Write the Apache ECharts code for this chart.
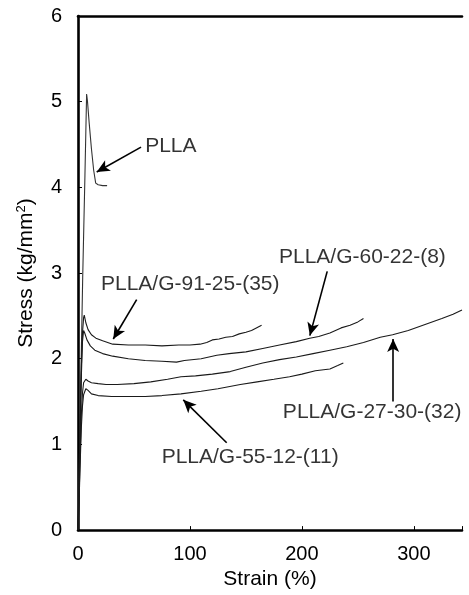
<!doctype html>
<html>
<head>
    <meta charset="utf-8">
    <title>stress-strain</title>
    <style type="text/css">
        body, html {
            width: 100%;
            height: 100%;
            margin: 0;
            padding: 0;
            background: #fff;
        }
    </style>
</head>
<body>
<div id="container" style="width: 469px; height: 595px"></div>

<script type="text/javascript" src="https://cdn.jsdelivr.net/npm/echarts@6.0.0/dist/echarts.min.js"></script>
<script type="text/javascript">
    // [strain %, stress kg/mm2]
    const plla = [[0, 0], [1.5, 1.0], [3, 2.1], [4.2, 2.95], [5.2, 3.55], [6.2, 4.14], [7, 4.65], [7.7, 5.09],
        [8.5, 5.0], [10, 4.75], [12, 4.45], [14, 4.2], [15.8, 4.05], [18, 4.03], [22, 4.02], [26, 4.02]];
    const g91 = [[0, 0], [1, 0.6], [2, 1.3], [3, 1.9], [4, 2.3], [5, 2.48], [5.6, 2.51], [7, 2.42], [9, 2.34],
        [12, 2.28], [16, 2.24], [22, 2.21], [31, 2.17], [45, 2.16], [60, 2.16], [75, 2.15], [90, 2.16],
        [100, 2.16], [109, 2.17], [115, 2.19], [120, 2.22], [126, 2.23], [132, 2.25], [138, 2.26],
        [144, 2.29], [150, 2.31], [155, 2.33], [158, 2.35], [161, 2.37], [164, 2.39]];
    const g60 = [[0, 0], [1, 0.5], [2, 1.2], [3, 1.8], [4, 2.2], [5, 2.33], [6, 2.3], [8, 2.22], [11, 2.15],
        [15, 2.1], [22, 2.06], [31, 2.03], [45, 2.0], [60, 1.98], [75, 1.97], [88, 1.96], [95, 1.98],
        [110, 2.0], [124, 2.04], [135, 2.06], [150, 2.08], [165, 2.12], [180, 2.16], [195, 2.2],
        [207, 2.24], [215, 2.26], [225, 2.3], [235, 2.36], [243, 2.39], [250, 2.43], [255, 2.47]];
    const g27 = [[0, 0], [1, 0.4], [2, 0.9], [3, 1.35], [4, 1.6], [5, 1.72], [7, 1.76], [9, 1.74], [12, 1.72],
        [18, 1.71], [25, 1.7], [35, 1.7], [50, 1.71], [65, 1.73], [80, 1.76], [92, 1.79], [105, 1.8],
        [120, 1.82], [136, 1.85], [150, 1.9], [165, 1.95], [180, 1.99], [195, 2.02], [210, 2.06],
        [225, 2.1], [240, 2.14], [255, 2.19], [270, 2.25], [281, 2.28], [295, 2.33], [310, 2.4],
        [325, 2.47], [335, 2.52], [343, 2.57]];
    const g55 = [[0, 0], [1, 0.35], [2, 0.8], [3, 1.2], [4, 1.45], [5, 1.58], [7, 1.65], [9, 1.63], [12, 1.59],
        [18, 1.57], [30, 1.56], [45, 1.56], [60, 1.56], [75, 1.57], [92, 1.59], [110, 1.62], [125, 1.65],
        [145, 1.7], [160, 1.73], [175, 1.76], [189, 1.79], [200, 1.82], [212, 1.86], [225, 1.88],
        [232, 1.92], [237, 1.95]];

    // label anchors: [strain, stress, text]
    const notes = [
        [60, 4.48, 'PLLA'],
        [20.5, 2.87, 'PLLA/G-91-25-(35)'],
        [179.5, 3.19, 'PLLA/G-60-22-(8)'],
        [183, 1.376, 'PLLA/G-27-30-(32)'],
        [74.7, 0.85, 'PLLA/G-55-12-(11)']
    ];
    // arrows: [from, to]
    const arrows = [
        [[56.3, 4.47], [16.7, 4.18]],
        [[52.4, 2.69], [31.5, 2.23]],
        [[222.6, 3.02], [207.1, 2.27]],
        [[281.5, 1.50], [281.5, 2.23]],
        [[132.8, 1.02], [94, 1.52]]
    ];

    const xTicks = [0, 100, 200, 300];
    const yTicks = [0, 1, 2, 3, 4, 5, 6];

    const dom = document.getElementById('container');
    const myChart = echarts.init(dom, null, {renderer: 'canvas'});

    const font = 'Liberation Sans, Arial, sans-serif';
    const lineCol = '#1a1a1a';

    function curve(name, data, color) {
        return {
            name: name,
            type: 'line',
            data: data,
            symbol: 'none',
            lineStyle: {color: color || lineCol, width: 1.1},
            z: 3
        };
    }

    const series = [
        curve('PLLA', plla, '#333'),
        curve('PLLA/G-91-25-(35)', g91),
        curve('PLLA/G-60-22-(8)', g60),
        curve('PLLA/G-27-30-(32)', g27),
        curve('PLLA/G-55-12-(11)', g55)
    ];
    series[0].markLine = {
        silent: true,
        symbol: ['none', 'arrow'],
        symbolSize: [9, 13],
        label: {show: false},
        lineStyle: {color: '#000', type: 'solid', width: 1.6},
        data: arrows.map(a => [{coord: a[0]}, {coord: a[1]}])
    };
    series.push({
        type: 'scatter',
        data: notes,
        symbolSize: 0,
        silent: true,
        label: {
            show: true,
            position: 'right',
            distance: 0,
            formatter: p => p.value[2],
            color: '#000',
            fontSize: 21,
            fontFamily: font
        }
    });

    const option = {
        animation: false,
        backgroundColor: '#fff',
        grid: {left: 78, right: 7, top: 16, bottom: 60},
        xAxis: [{
            type: 'value',
            min: 0,
            max: 343,
            interval: 100,
            name: 'Strain (%)',
            nameLocation: 'middle',
            nameGap: 36,
            nameTextStyle: {color: '#000', fontSize: 21, fontFamily: font},
            axisLine: {lineStyle: {color: '#000', width: 2.6}},
            axisTick: {inside: true, length: 4, lineStyle: {color: '#000'}},
            axisLabel: {
                color: '#000', fontSize: 20, fontFamily: font, margin: 14,
                formatter: v => xTicks.indexOf(v) >= 0 ? String(v) : ''
            },
            splitLine: {show: false}
        }, {
            type: 'value',
            position: 'top',
            min: 0,
            max: 343,
            axisLine: {show: true, lineStyle: {color: '#000', width: 2.6}},
            axisTick: {show: false},
            axisLabel: {show: false},
            splitLine: {show: false}
        }],
        yAxis: {
            type: 'value',
            min: 0,
            max: 6,
            interval: 1,
            name: '{a|Stress (kg/mm}{s|2}{a|)}',
            nameLocation: 'middle',
            nameGap: 40,
            nameTextStyle: {
                rich: {
                    a: {color: '#000', fontSize: 21, fontFamily: font},
                    s: {color: '#000', fontSize: 13, fontFamily: font, verticalAlign: 'top', padding: [0, 0, 10, 0]}
                }
            },
            axisLine: {show: true, lineStyle: {color: '#000', width: 2.6}},
            axisTick: {show: true, inside: true, length: 4, lineStyle: {color: '#000'}},
            axisLabel: {
                color: '#000', fontSize: 20, fontFamily: font, margin: 16,
                formatter: v => yTicks.indexOf(v) >= 0 ? String(v) : ''
            },
            splitLine: {show: false}
        },
        series: series
    };

    myChart.setOption(option);
</script>
</body>
</html>
